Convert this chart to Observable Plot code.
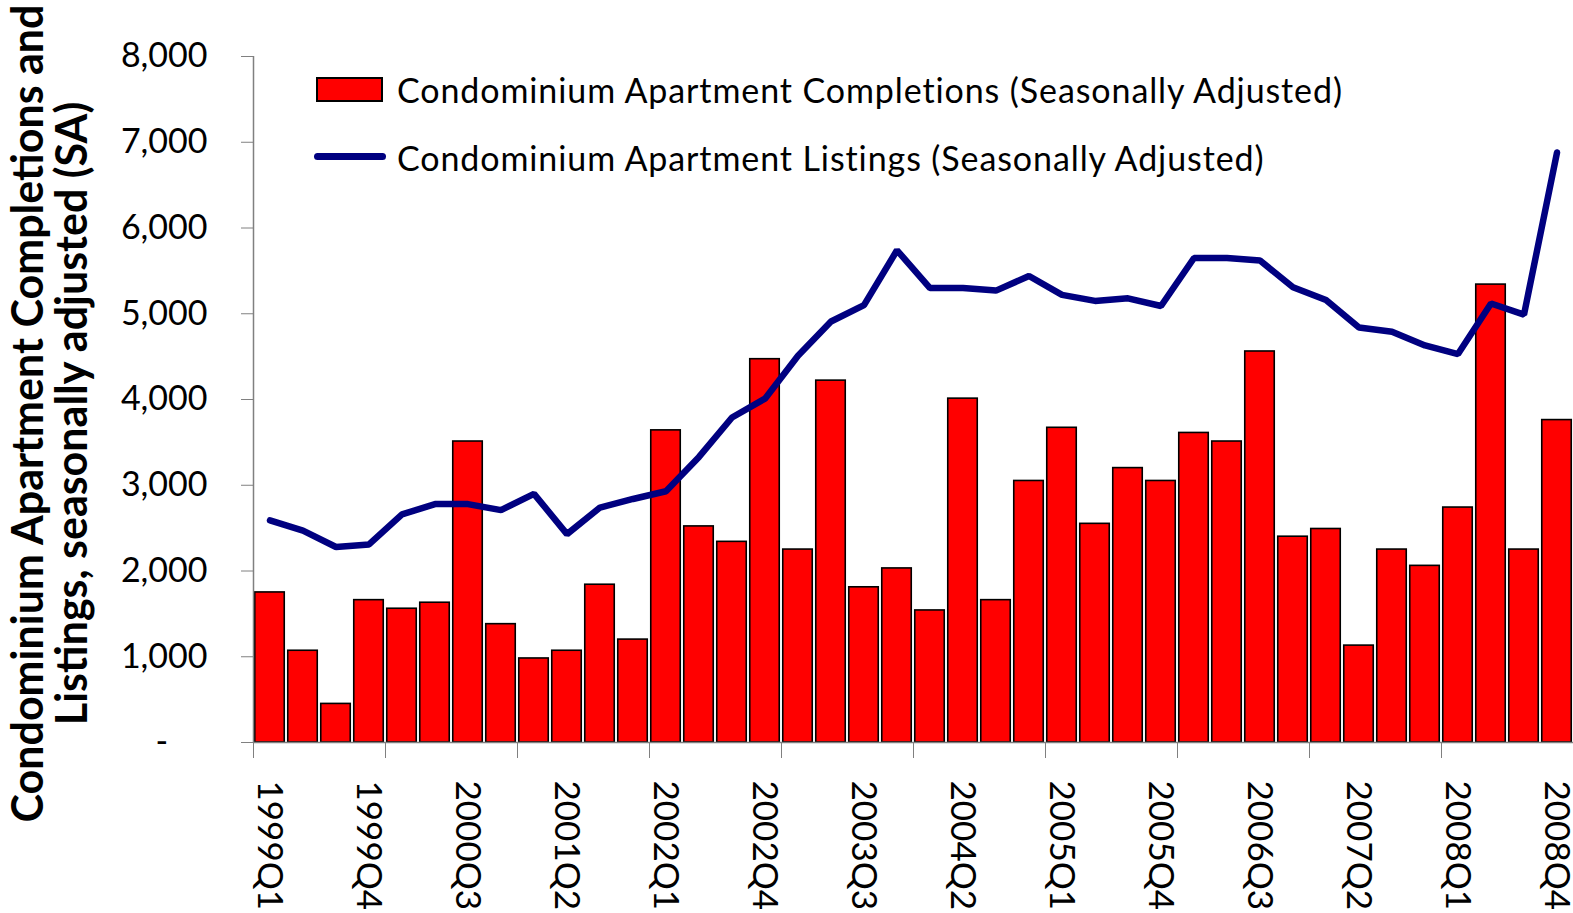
<!DOCTYPE html>
<html>
<head>
<meta charset="utf-8">
<script src="https://cdn.jsdelivr.net/npm/d3@7"></script>
<script src="https://cdn.jsdelivr.net/npm/@observablehq/plot@0.6"></script>
<style>
  html, body { margin: 0; padding: 0; background: #fff; }
  #wrap { position: relative; width: 1573px; height: 913px; overflow: hidden; font-family: Lato, "Noto Sans", sans-serif; }
  .legend { position: absolute; left: 316px; top: 62px; font-size: 34px; letter-spacing: 0.9px; color: #000; }
  .item { position: relative; height: 68px; white-space: nowrap; }
  .sw-rect { position: absolute; left: 0; top: 15px; width: 63px; height: 21px; background: #ff0000; border: 2px solid #000; }
  .sw-line { position: absolute; left: -2px; top: 23px; width: 72px; height: 7px; background: #000080; border-radius: 4px; }
  .lab { position: absolute; left: 81px; top: 8px; line-height: 1.2; }
</style>
</head>
<body>
<div id="wrap"></div>
<script>
// ---- data ----
const quarters = [
  "1999Q1","1999Q2","1999Q3","1999Q4",
  "2000Q1","2000Q2","2000Q3","2000Q4",
  "2001Q1","2001Q2","2001Q3","2001Q4",
  "2002Q1","2002Q2","2002Q3","2002Q4",
  "2003Q1","2003Q2","2003Q3","2003Q4",
  "2004Q1","2004Q2","2004Q3","2004Q4",
  "2005Q1","2005Q2","2005Q3","2005Q4",
  "2006Q1","2006Q2","2006Q3","2006Q4",
  "2007Q1","2007Q2","2007Q3","2007Q4",
  "2008Q1","2008Q2","2008Q3","2008Q4"
];
const completions = [
  1750, 1070, 450, 1660,
  1560, 1630, 3510, 1380,
  980, 1070, 1840, 1200,
  3640, 2520, 2340, 4470,
  2250, 4220, 1810, 2030,
  1540, 4010, 1660, 3050,
  3670, 2550, 3200, 3050,
  3610, 3510, 4560, 2400,
  2490, 1130, 2250, 2060,
  2740, 5340, 2250, 3760
];
const listings = [
  2590, 2470, 2280, 2310,
  2660, 2780, 2780, 2710,
  2900, 2430, 2740, 2840,
  2930, 3330, 3790, 4010,
  4510, 4910, 5100, 5740,
  5300, 5300, 5270, 5440,
  5220, 5150, 5180, 5090,
  5650, 5650, 5620, 5310,
  5160, 4840, 4790, 4630,
  4530, 5120, 4990, 6880
];
const tickLabels = ["1999Q1","1999Q4","2000Q3","2001Q2","2002Q1","2002Q4","2003Q3","2004Q2","2005Q1","2005Q4","2006Q3","2007Q2","2008Q1","2008Q4"];
const yTicks = [0, 1000, 2000, 3000, 4000, 5000, 6000, 7000, 8000];
const seriesNames = [
  "Condominium Apartment Completions (Seasonally Adjusted)",
  "Condominium Apartment Listings (Seasonally Adjusted)"
];
const yTitle = "Condominium Apartment Completions and\nListings, seasonally adjusted (SA)";

// ---- build ----
const rows = quarters.map((q, i) => ({i, q, c: completions[i], l: listings[i]}));
const labelRows = tickLabels.map(t => ({t, i: quarters.indexOf(t)}));
const boundaryTicks = d3.range(0, quarters.length + 1, 4);
const gray = "#808080";
const fmt = d3.format(",");

const chart = Plot.plot({
  width: 1573,
  height: 913,
  marginLeft: 253,
  marginRight: 0,
  marginTop: 56,
  marginBottom: 171,
  style: {fontFamily: "Lato, 'Noto Sans', sans-serif", color: "#000", background: "#fff"},
  x: {type: "linear", domain: [0, quarters.length], axis: null},
  y: {domain: [0, 8000], axis: null},
  marks: [
    Plot.rectY(rows, {x1: d => d.i, x2: d => d.i + 1, y: "c", fill: "#ff0000", stroke: "#000", strokeWidth: 1.6, insetLeft: 1.75, insetRight: 1.75}),
    Plot.ruleY([0], {stroke: gray, strokeWidth: 1.5}),
    Plot.ruleX([0], {y1: 0, y2: 8000, stroke: gray, strokeWidth: 1.5}),
    Plot.axisY({ticks: yTicks, tickSize: 12, tickPadding: 34, stroke: gray, fontSize: 34, fill: "#000",
      tickFormat: d => d === 0 ? "-\u2007\u2007" : fmt(d), label: null}),
    Plot.axisX({ticks: boundaryTicks, tickSize: 16, tickFormat: () => "", stroke: gray, label: null}),
    Plot.text(labelRows, {x: d => d.i + 0.5, frameAnchor: "bottom", text: "t", rotate: 90, textAnchor: "start", dx: -12, dy: 38, fontSize: 35, fill: "#000"}),
    Plot.line(rows, {x: d => d.i + 0.5, y: "l", stroke: "#000080", strokeWidth: 6.5, strokeLinejoin: "miter", strokeLinecap: "round"}),
    Plot.text([yTitle], {text: d => d, frameAnchor: "left", rotate: -90, dx: -203, dy: 14, fontSize: 43, fontWeight: "bold", lineHeight: 1.03, textAnchor: "middle", fill: "#000"})
  ]
});

const wrap = document.getElementById("wrap");
wrap.appendChild(chart);

const legend = document.createElement("div");
legend.className = "legend";
legend.innerHTML =
  `<div class="item"><div class="sw-rect"></div><div class="lab">${seriesNames[0]}</div></div>` +
  `<div class="item"><div class="sw-line"></div><div class="lab">${seriesNames[1]}</div></div>`;
wrap.appendChild(legend);
</script>
</body>
</html>
